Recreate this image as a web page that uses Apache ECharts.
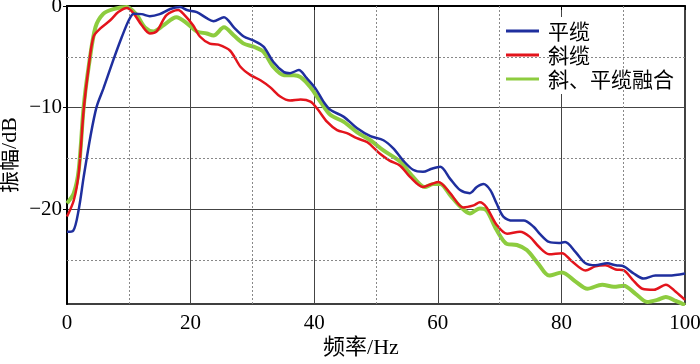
<!DOCTYPE html>
<html>
<head>
<meta charset="utf-8">
<script src="https://cdn.jsdelivr.net/npm/echarts@6/dist/echarts.min.js"></script>
<style>
	html, body { margin: 0; padding: 0; background: #fff; }
	#chart { width: 700px; height: 364px; }
</style>
</head>
<body>
<div id="chart"></div>
<script>
// 频率(Hz), 振幅(dB)
var flatCable = [
	[0, -22.2], [1, -22.1], [1.9, -20.0], [2.7, -16.8], [3.8, -12.8], [4.8, -9.9],
	[5.9, -8.1], [7.5, -5.3], [8.9, -3.0], [10, -1.4], [10.8, -0.75], [12.1, -0.8],
	[13.4, -1.0], [15, -0.8], [16.7, -0.3], [18.3, -0.1], [19.4, -0.4], [21, -0.6],
	[22.6, -1.2], [23.7, -1.5], [25.4, -1.1], [27, -2.1], [28.6, -3.0], [30.2, -3.4],
	[31.8, -4.0], [33.4, -5.5], [35.1, -6.5], [36.1, -6.6], [37.5, -6.3], [38.8, -7.1],
	[40.2, -8.1], [41.5, -9.4], [42.6, -10.2], [44.8, -10.9], [46.9, -12.0], [49.1, -12.8],
	[51.2, -13.2], [52.8, -14.0], [54.4, -15.2], [56, -16.1], [57.6, -16.3], [59, -16.0],
	[60.4, -15.8], [62, -17.0], [63.6, -18.1], [65.2, -18.4], [66.3, -17.8], [67.4, -17.5],
	[68.5, -18.1], [69.5, -19.4], [70.6, -20.7], [72.2, -21.1], [73.9, -21.1], [75.5, -21.7],
	[76.5, -22.4], [78, -23.2], [79.6, -23.3], [80.6, -23.2], [82.3, -24.2], [83.9, -25.3],
	[85.5, -25.5], [87.4, -25.3], [88.8, -25.5], [90.1, -25.6], [91.7, -26.3], [93.3, -26.8],
	[95.2, -26.5], [97.4, -26.5], [100, -26.3]
];
var slantCable = [
	[0, -20.7], [1.1, -19.1], [1.9, -16.4], [2.7, -10.2], [3.5, -6.0], [4.3, -3.0],
	[5.4, -2.2], [7, -1.4], [8.3, -0.6], [9.7, -0.2], [10.8, -0.75], [12.1, -1.9],
	[13.4, -2.7], [14.5, -2.5], [16.1, -0.9], [18, -0.4], [18.8, -0.75], [20.4, -1.9],
	[21.5, -3.0], [23.1, -3.7], [24.5, -3.8], [26.4, -4.4], [28.1, -6.0], [29.7, -6.8],
	[31.3, -7.3], [32.9, -8.0], [34.5, -8.9], [36.1, -9.3], [37.8, -9.2], [39.4, -9.4],
	[40.5, -10.1], [42.1, -11.4], [43.7, -12.2], [45.3, -12.5], [46.9, -13.0], [48.6, -13.4],
	[50.6, -14.5], [52.2, -15.2], [53.9, -15.7], [55.5, -16.8], [57.6, -17.8], [59, -17.5],
	[60.1, -17.3], [62, -18.4], [64.1, -19.8], [65.8, -19.6], [66.8, -19.3], [67.9, -19.8],
	[69.5, -21.5], [71.2, -22.4], [73.3, -22.2], [74.9, -22.7], [76.4, -23.7], [78, -24.4],
	[80.1, -24.3], [81.7, -25.1], [83.9, -26.0], [85.5, -25.6], [87.1, -25.5], [88.8, -25.9],
	[90.1, -26.0], [91.5, -26.9], [93.1, -27.8], [95, -27.9], [96.9, -27.4], [98.5, -28.1],
	[100, -28.9]
];
var mergedCable = [
	[0, -19.4], [1.1, -18.4], [1.9, -16.1], [2.7, -9.9], [3.5, -6.0], [4.6, -2.1],
	[5.9, -0.75], [7.5, -0.3], [9.7, -0.1], [11.3, -0.9], [12.6, -2.1], [14, -2.5],
	[15.6, -1.9], [17.7, -1.1], [19.4, -1.7], [21, -2.5], [22.6, -2.7], [23.7, -2.9],
	[25.4, -2.1], [27, -2.9], [28.6, -3.7], [30.2, -4.0], [31.8, -4.5], [33.4, -6.0],
	[35.1, -6.8], [36.7, -6.8], [37.8, -7.0], [39.4, -8.0], [41, -9.4], [42.6, -10.7],
	[44.8, -11.4], [46.9, -12.4], [49.1, -13.2], [51.2, -14.2], [53.9, -15.3], [56, -16.8],
	[57.9, -17.8], [59.3, -17.5], [60.4, -17.5], [62, -18.6], [63.6, -19.7], [65.2, -20.4],
	[66.8, -19.9], [67.9, -20.1], [69.5, -22.0], [71.2, -23.4], [72.8, -23.5], [74.4, -24.0],
	[76.2, -25.3], [78, -26.5], [80.1, -26.2], [82.3, -27.1], [84.2, -27.8], [86.6, -27.4],
	[88.5, -27.6], [90.1, -27.5], [92, -28.3], [93.9, -29.1], [95.5, -28.9], [96.9, -28.6],
	[98.5, -29.0], [100, -29.4]
];
var seriesNames = ['平缆', '斜缆', '斜、平缆融合'];
var seriesColors = ['#1f2f9e', '#e3141c', '#8dcc3f'];
var yTickValues = [-20, -10, 0];
var xMinorLines = [10, 30, 50, 70, 90];
var yMinorLines = [-5, -15, -25];

var numFont = "'Liberation Serif', 'DejaVu Serif', serif";
var cjkFont = "'Noto Sans CJK SC', sans-serif";
var nameFont = "'Liberation Serif', 'Noto Sans CJK SC', serif";

var dotLines = [];
for (var i = 0; i < xMinorLines.length; i++) {
	dotLines.push({ xAxis: xMinorLines[i] });
}
for (var j = 0; j < yMinorLines.length; j++) {
	dotLines.push({ yAxis: yMinorLines[j] });
}

var myChart = echarts.init(document.getElementById('chart'));
var option = {
	animation: false,
	backgroundColor: '#fff',
	grid: {
		left: 67,
		right: 15,
		top: 6,
		bottom: 60,
		outerBoundsMode: 'none',
		containLabel: false,
		show: true,
		borderColor: '#000',
		borderWidth: 1.5
	},
	legend: {
		orient: 'vertical',
		left: 503,
		top: 17,
		padding: [3, 3, 4, 3],
		backgroundColor: '#fff',
		itemWidth: 33,
		itemHeight: 3,
		itemGap: 2,
		icon: 'rect',
		data: seriesNames,
		textStyle: {
			fontFamily: cjkFont,
			fontSize: 21,
			lineHeight: 22,
			color: '#000',
			padding: [0, 0, 0, 4]
		}
	},
	xAxis: {
		type: 'value',
		min: 0,
		max: 100,
		interval: 20,
		name: '频率/Hz',
		nameLocation: 'middle',
		nameMoveOverlap: false,
		nameGap: 33,
		nameTextStyle: {
			fontFamily: nameFont,
			fontSize: 22,
			color: '#000',
			padding: [0, 30, 0, 0]
		},
		axisLine: { lineStyle: { color: '#000', width: 2 } },
		axisTick: { show: true, length: 4, lineStyle: { color: '#000' } },
		axisLabel: {
			margin: 9,
			fontFamily: numFont,
			fontSize: 21,
			color: '#000'
		},
		splitLine: { show: true, lineStyle: { color: '#444', width: 1 } }
	},
	yAxis: {
		type: 'value',
		min: -29.3,
		max: 0,
		splitNumber: 3,
		name: '振幅/dB',
		nameLocation: 'middle',
		nameMoveOverlap: false,
		nameGap: 46,
		nameTextStyle: {
			fontFamily: nameFont,
			fontSize: 22,
			color: '#000'
		},
		axisLine: { show: true, lineStyle: { color: '#000', width: 2 } },
		axisTick: { show: true, length: 4, customValues: yTickValues, lineStyle: { color: '#000' } },
		axisLabel: {
			margin: 5,
			customValues: yTickValues,
			fontFamily: numFont,
			fontSize: 21,
			color: '#000',
			formatter: function(v) {
				return String(v).replace('-', '\u2212');
			}
		},
		splitLine: { show: true, lineStyle: { color: '#444', width: 1 } }
	},
	series: [{
		name: seriesNames[0],
		type: 'line',
		data: flatCable,
		smooth: 0.3,
		showSymbol: false,
		z: 5,
		color: seriesColors[0],
		lineStyle: { color: seriesColors[0], width: 2.5 }
	}, {
		name: seriesNames[1],
		type: 'line',
		data: slantCable,
		smooth: 0.3,
		showSymbol: false,
		z: 4,
		color: seriesColors[1],
		lineStyle: { color: seriesColors[1], width: 2.5 }
	}, {
		name: seriesNames[2],
		type: 'line',
		data: mergedCable,
		smooth: 0.3,
		showSymbol: false,
		z: 3,
		color: seriesColors[2],
		lineStyle: { color: seriesColors[2], width: 4 }
	}, {
		// 虚线网格
		name: 'dotgrid',
		type: 'line',
		data: [],
		z: 1,
		silent: true,
		markLine: {
			silent: true,
			symbol: 'none',
			label: { show: false },
			lineStyle: { color: '#888', type: [2, 2], width: 1 },
			emphasis: { disabled: true },
			data: dotLines
		}
	}]
};
myChart.setOption(option);
</script>
</body>
</html>
